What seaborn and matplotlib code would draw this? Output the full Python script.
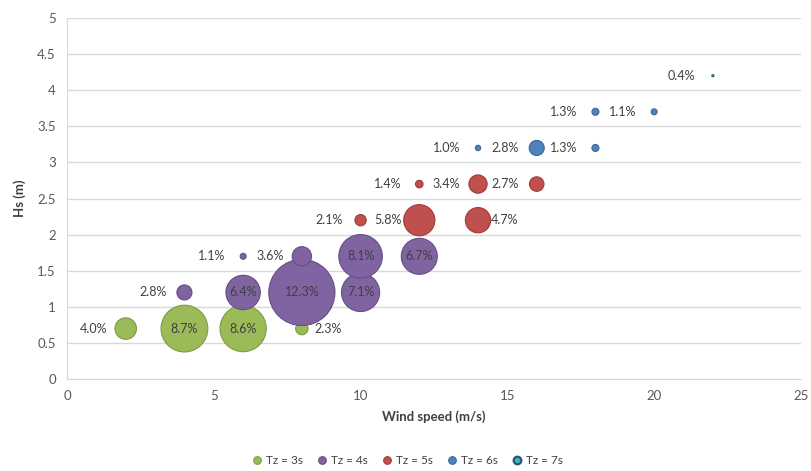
import pandas as pd
import matplotlib
matplotlib.use('Agg')
from matplotlib import pyplot as plt
from matplotlib.lines import Line2D
import seaborn as sns

# chart data
tz = ['Tz = 3s'] * 4 + ['Tz = 4s'] * 8 + ['Tz = 5s'] * 6 + ['Tz = 6s'] * 5 + ['Tz = 7s']
wind = [2, 4, 6, 8,
        4, 6, 8, 10, 6, 8, 10, 12,
        10, 12, 14, 12, 14, 16,
        14, 16, 18, 18, 20,
        22]
hs = [0.7, 0.7, 0.7, 0.7,
      1.2, 1.2, 1.2, 1.2, 1.7, 1.7, 1.7, 1.7,
      2.2, 2.2, 2.2, 2.7, 2.7, 2.7,
      3.2, 3.2, 3.2, 3.7, 3.7,
      4.2]
pct = [4.0, 8.7, 8.6, 2.3,
       2.8, 6.4, 12.3, 7.1, 1.1, 3.6, 8.1, 6.7,
       2.1, 5.8, 4.7, 1.4, 3.4, 2.7,
       1.0, 2.8, 1.3, 1.3, 1.1,
       0.4]
# where each data label sits: l = left of bubble, c = centre, r = right
label_side = ['l', 'c', 'c', 'r',
              'l', 'c', 'c', 'c', 'l', 'l', 'c', 'c',
              'l', 'l', 'r', 'l', 'l', 'l',
              'l', 'l', 'l', 'l', 'l',
              'l']
groups = ['Tz = 3s', 'Tz = 4s', 'Tz = 5s', 'Tz = 6s', 'Tz = 7s']
colors = ['#9BBB59', '#8064A2', '#C0504D', '#4F81BD', '#4BACC6']
edges = ['#7E9A45', '#654E84', '#9E3B38', '#3C679C', '#1D5F6E']

df = pd.DataFrame({'tz': tz, 'wind': wind, 'hs': hs, 'pct': pct})

sns.set_style('white')
plt.rcParams['font.family'] = ['Lato', 'DejaVu Sans']

fig = plt.figure(figsize=(8.11, 4.71), dpi=100)
ax = fig.add_axes([0.0826, 0.195, 0.905, 0.767])

# bubble diameter proportional to value (like Excel "width" sizing)
sizes = {v: (3.87 * v) ** 2 for v in df['pct'].unique()}
edge_map = dict(zip(groups, edges))
sns.scatterplot(data=df, x='wind', y='hs', hue='tz', size='pct',
                hue_order=groups, palette=colors, sizes=sizes,
                edgecolor=[edge_map[t] for t in tz], linewidth=0.8,
                alpha=1, legend=False, ax=ax, zorder=3)

for x, y, v, side in zip(wind, hs, pct, label_side):
    txt = f'{v:.1f}%'
    if side == 'l':
        ax.annotate(txt, (x, y), xytext=(-13, 0), textcoords='offset points',
                    ha='right', va='center', fontsize=9, color='#404040', zorder=4)
    elif side == 'r':
        ax.annotate(txt, (x, y), xytext=(9, 0), textcoords='offset points',
                    ha='left', va='center', fontsize=9, color='#404040', zorder=4)
    else:
        ax.annotate(txt, (x, y), ha='center', va='center', fontsize=9,
                    color='#404040', zorder=4)

ax.set_xlim(0, 25)
ax.set_ylim(0, 5)
ax.set_xticks([0, 5, 10, 15, 20, 25])
ax.set_yticks([0, 0.5, 1, 1.5, 2, 2.5, 3, 3.5, 4, 4.5, 5])
ax.set_yticklabels(['0', '0.5', '1', '1.5', '2', '2.5', '3', '3.5', '4', '4.5', '5'])
ax.yaxis.grid(True, color='#D9D9D9', linewidth=1)
ax.set_axisbelow(True)
for s in ['top', 'right']:
    ax.spines[s].set_visible(False)
ax.spines['left'].set_color('#D9D9D9')
ax.spines['bottom'].set_color('#D9D9D9')
ax.tick_params(axis='both', length=0, labelsize=9.5, colors='#595959', pad=8)

ax.set_xlabel('Wind speed (m/s)', fontsize=9.5, fontweight='bold', color='#404040', labelpad=6)
ax.set_ylabel('Hs (m)', fontsize=9.5, fontweight='bold', color='#404040', labelpad=8)

handles = [Line2D([], [], marker='o', linestyle='', markersize=5.5,
                  markerfacecolor=c, markeredgecolor=e, markeredgewidth=0.8)
           for c, e in zip(colors, edges)]
handles[-1].set_markeredgewidth(1.6)
fig.legend(handles, groups, loc='center', bbox_to_anchor=(0.5, 0.022), ncol=5,
           frameon=False, fontsize=8.5, handletextpad=0.0, columnspacing=0.9,
           handlelength=1.5, labelcolor='#404040')

fig.savefig('out.png', dpi=100)
